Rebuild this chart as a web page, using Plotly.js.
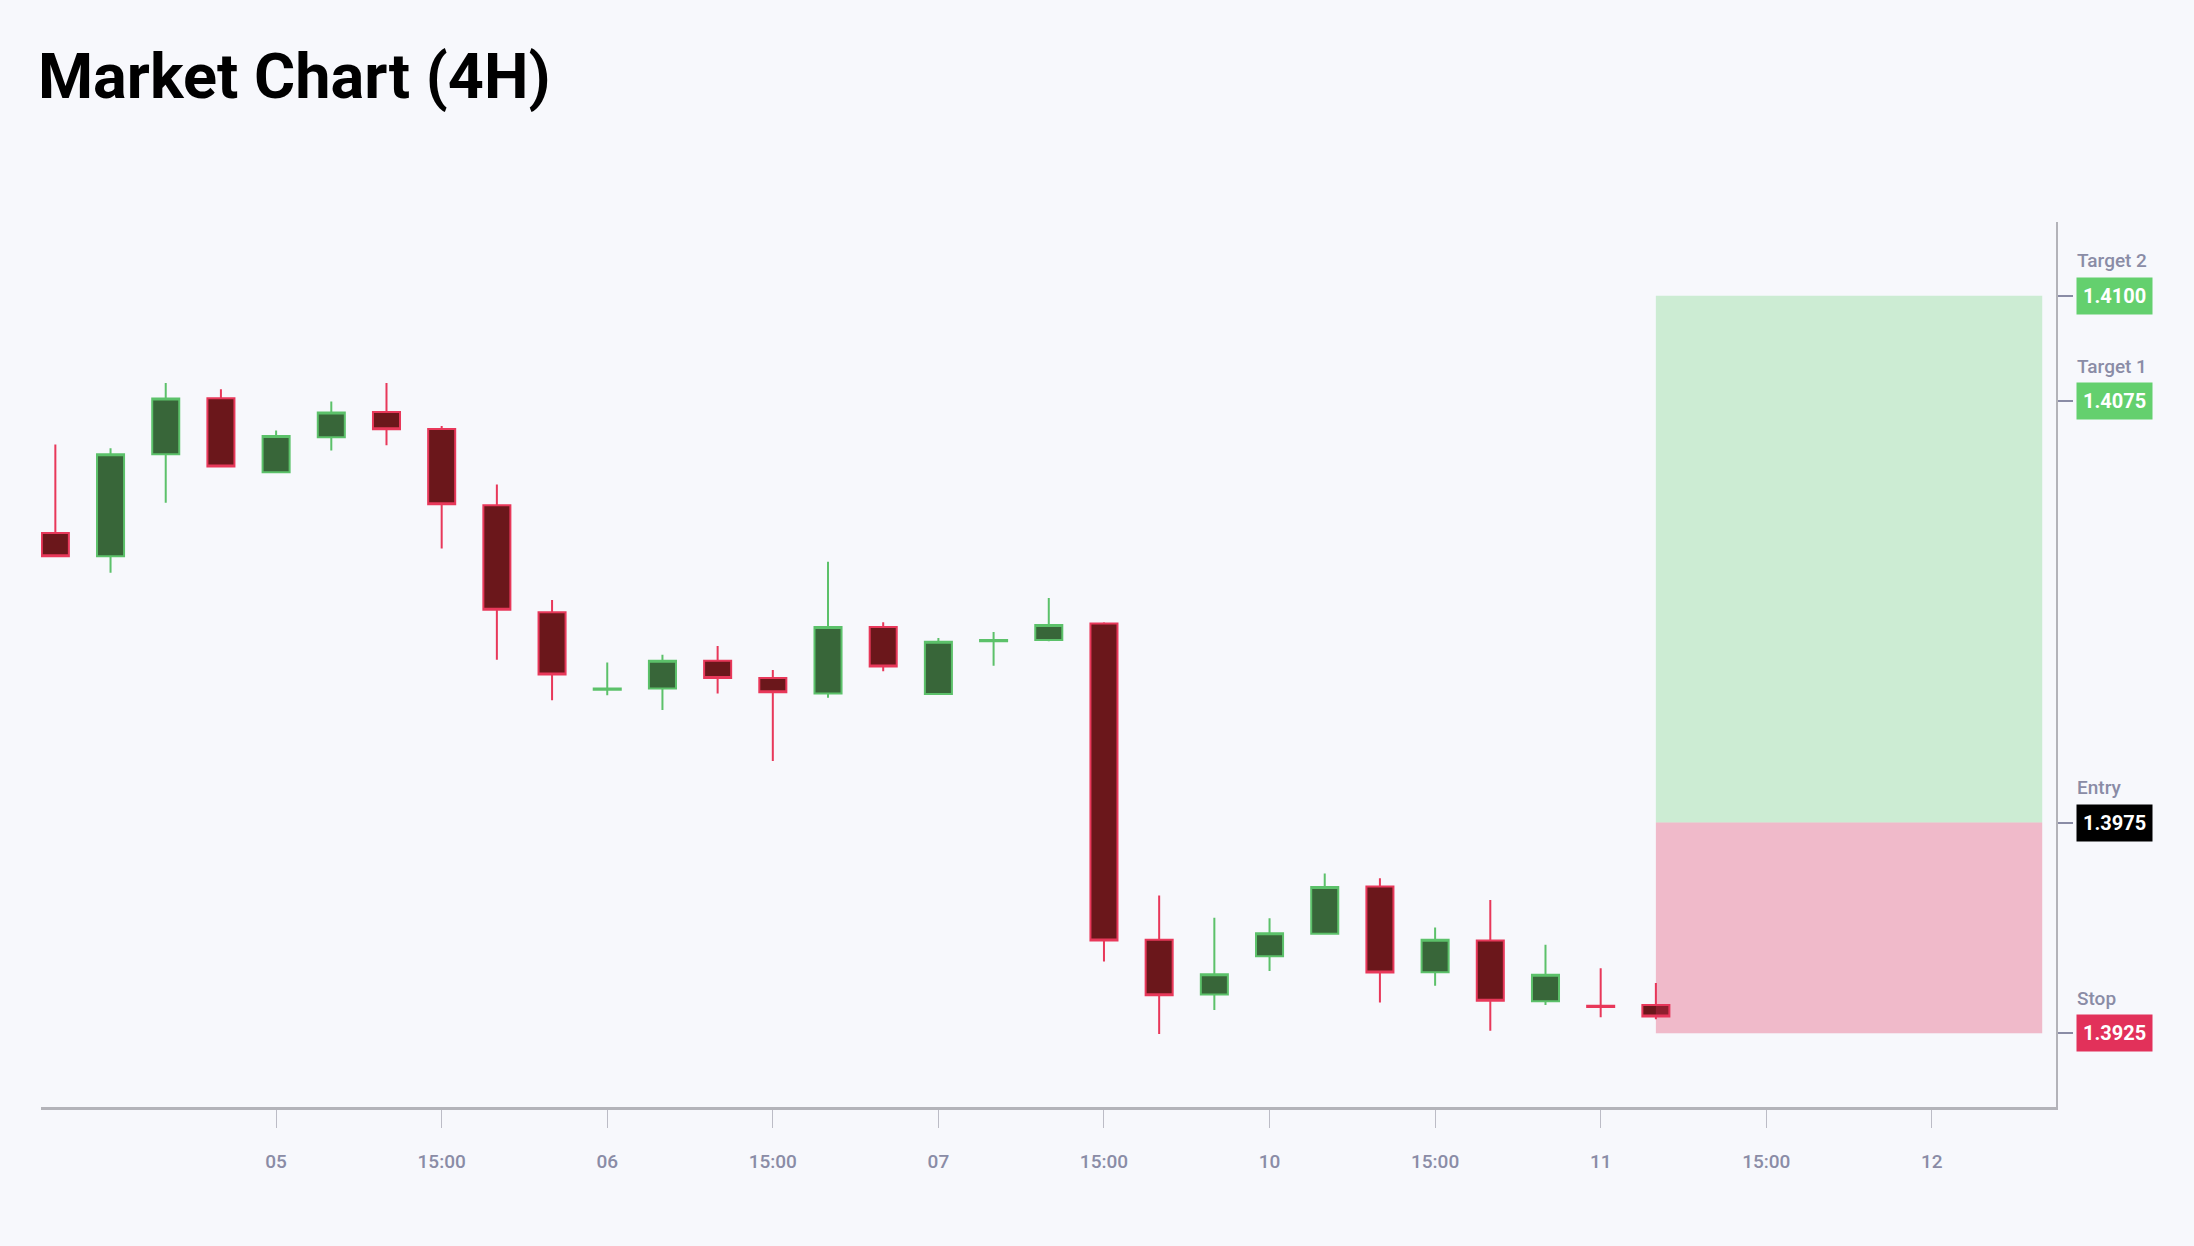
<!DOCTYPE html>
<html>
<head>
<meta charset="utf-8">
<script src="https://cdn.plot.ly/plotly-3.0.1.min.js"></script>
<style>
  html, body { margin: 0; padding: 0; background: #f7f8fc; }
  #chart { width: 2194px; height: 1246px; }
</style>
</head>
<body>
<div id="chart"></div>
<script>
// ---- Data ----
const times = ["04 11:00","04 15:00","04 19:00","04 23:00","05 03:00","05 07:00","05 11:00","05 15:00","05 19:00","05 23:00",
               "06 03:00","06 07:00","06 11:00","06 15:00","06 19:00","06 23:00","07 03:00","07 07:00","07 11:00","07 15:00",
               "07 19:00","07 23:00","10 03:00","10 07:00","10 11:00","10 15:00","10 19:00","10 23:00","11 03:00","11 07:00"];
const futureTimes = ["11 11:00","11 15:00","11 19:00","11 23:00","12 03:00","12 07:00","12 11:00"];

const open  = [1.40437,1.40382,1.40624,1.40757,1.40581,1.40664,1.40724,1.40684,1.40503,1.40249,
               1.40065,1.40068,1.40134,1.40093,1.40056,1.40214,1.40055,1.40180,1.40183,1.40222,
               1.39472,1.39342,1.39433,1.39486,1.39598,1.39395,1.39470,1.39326,1.39315,1.39317];
const high  = [1.40647,1.40638,1.40793,1.40778,1.40680,1.40749,1.40793,1.40691,1.40552,1.40278,
               1.40130,1.40148,1.40169,1.40112,1.40369,1.40225,1.40188,1.40202,1.40283,1.40225,
               1.39577,1.39524,1.39523,1.39629,1.39618,1.39501,1.39566,1.39460,1.39404,1.39369];
const low   = [1.40382,1.40343,1.40509,1.40593,1.40581,1.40633,1.40645,1.40400,1.40136,1.40040,
               1.40052,1.40017,1.40056,1.39896,1.40046,1.40109,1.40055,1.40122,1.40180,1.39420,
               1.39248,1.39305,1.39398,1.39486,1.39323,1.39363,1.39256,1.39317,1.39288,1.39283];
const close = [1.40382,1.40624,1.40756,1.40595,1.40667,1.40723,1.40683,1.40505,1.40255,1.40101,
               1.40068,1.40134,1.40093,1.40059,1.40214,1.40120,1.40179,1.40183,1.40219,1.39470,
               1.39340,1.39390,1.39487,1.39597,1.39394,1.39472,1.39327,1.39389,1.39312,1.39290];

const tickVals  = ["05 03:00","05 15:00","06 03:00","06 15:00","07 03:00","07 15:00","10 03:00","10 15:00","11 03:00","11 15:00","12 03:00"];
const tickTexts = ["05","15:00","06","15:00","07","15:00","10","15:00","11","15:00","12"];

const levelNames  = ["Target 2","Target 1","Entry","Stop"];
const levelValues = [1.4100, 1.4075, 1.3975, 1.3925];
const levelColors = ["#64d06e","#64d06e","#000000","#e2315a"];

const zoneStart = "11 07:00";
const zoneEnd   = "12 11:00";

// ---- Chart ----
const trace = {
  type: 'candlestick',
  x: times, open: open, high: high, low: low, close: close,
  increasing: { fillcolor: '#386639', line: { color: '#5cc16a', width: 2 } },
  decreasing: { fillcolor: '#6b171b', line: { color: '#e8385a', width: 2 } },
  whiskerwidth: 0,
  showlegend: false,
  hoverinfo: 'x+y'
};

const annotations = [];
levelNames.forEach((name, i) => {
  annotations.push({
    xref: 'paper', x: 1, xanchor: 'left', xshift: 20,
    yref: 'y', y: levelValues[i], yanchor: 'middle',
    text: levelValues[i].toFixed(4), showarrow: false,
    bgcolor: levelColors[i], borderpad: 6,
    font: { family: 'Roboto', size: 20, color: '#ffffff', weight: 'bold' }
  });
  annotations.push({
    xref: 'paper', x: 1, xanchor: 'left', xshift: 19,
    yref: 'y', y: levelValues[i], yanchor: 'middle', yshift: 35,
    text: name, showarrow: false,
    font: { family: 'Roboto', size: 19, color: '#8a8ca6', weight: 500 }
  });
});

const shapes = [
  { type: 'rect', xref: 'x', yref: 'y', x0: zoneStart, x1: zoneEnd,
    y0: levelValues[2], y1: levelValues[0], fillcolor: levelColors[0], opacity: 0.29,
    line: { width: 0 }, layer: 'above' },
  { type: 'rect', xref: 'x', yref: 'y', x0: zoneStart, x1: zoneEnd,
    y0: levelValues[3], y1: levelValues[2], fillcolor: levelColors[3], opacity: 0.31,
    line: { width: 0 }, layer: 'above' }
];

const layout = {
  width: 2194, height: 1246,
  paper_bgcolor: '#f7f8fc', plot_bgcolor: '#f7f8fc',
  margin: { l: 41, r: 138, t: 222, b: 139 },
  title: {
    text: 'Market Chart (4H)',
    font: { family: 'Roboto', size: 63, color: '#000000', weight: 'bold' },
    xref: 'container', x: 0.0173, xanchor: 'left',
    yref: 'container', y: 0.939, yanchor: 'middle'
  },
  xaxis: {
    type: 'category',
    categoryorder: 'array', categoryarray: times.concat(futureTimes),
    range: [-0.26, 36.25],
    tickmode: 'array', tickvals: tickVals, ticktext: tickTexts,
    ticks: 'outside', ticklen: 18, tickwidth: 1, tickcolor: '#bcbcc6',
    ticklabelstandoff: 17,
    tickfont: { family: 'Roboto', size: 19, color: '#8a8ca6', weight: 500 },
    showline: true, linecolor: '#b3b3b9', linewidth: 3,
    showgrid: false, zeroline: false,
    rangeslider: { visible: false }, fixedrange: true
  },
  yaxis: {
    side: 'right',
    range: [1.39075, 1.41175],
    tickmode: 'array', tickvals: levelValues,
    showticklabels: false,
    ticks: 'outside', ticklen: 15, tickwidth: 2, tickcolor: '#8a8ca6',
    showline: true, linecolor: '#b3b3b9', linewidth: 2,
    showgrid: false, zeroline: false, fixedrange: true
  },
  annotations: annotations,
  shapes: shapes,
  showlegend: false
};

Plotly.newPlot('chart', [trace], layout, { displayModeBar: false, staticPlot: true });
</script>
</body>
</html>
